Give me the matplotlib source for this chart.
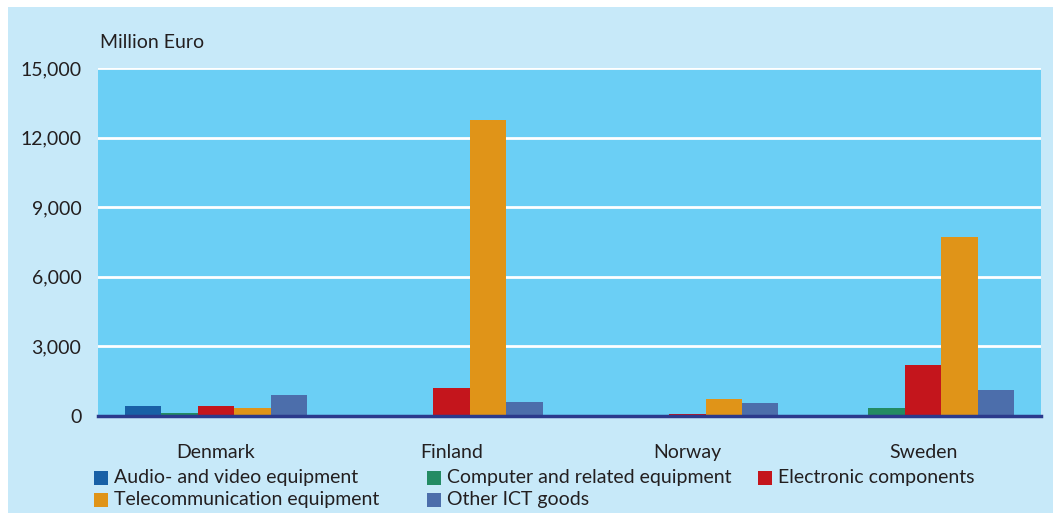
import matplotlib
matplotlib.use("Agg")
import matplotlib.pyplot as plt
from matplotlib.patches import Rectangle
import numpy as np

countries = ["Denmark", "Finland", "Norway", "Sweden"]
series_names = ["Audio- and video equipment", "Computer and related equipment",
                "Electronic components", "Telecommunication equipment", "Other ICT goods"]
audio_video = [430, 30, 10, 20]
computer = [130, 30, 20, 350]
electronic = [430, 1200, 90, 2200]
telecom = [350, 12760, 730, 7720]
other_ict = [900, 600, 560, 1120]
yticks = [0, 3000, 6000, 9000, 12000, 15000]
ytick_labels = ["0", "3,000", "6,000", "9,000", "12,000", "15,000"]

colors = ["#1860A6", "#238B63", "#C4151C", "#E09418", "#4C6EAB"]
values = [audio_video, computer, electronic, telecom, other_ict]

plt.rcParams['font.family'] = ['Lato', 'DejaVu Sans']
txt = "#231F20"
fs = 14

fig = plt.figure(figsize=(10.53, 5.13), dpi=100, facecolor="white")
fig.patches.append(Rectangle((8/1053, 0), 1 - 8/1053, 1 - 7/513, transform=fig.transFigure,
                             facecolor="#C7E9F9", edgecolor="none", zorder=-10))
ax = fig.add_axes([98/1053, 97/513, 943/1053, 348/513])
ax.set_facecolor("#6BCFF5")

x = np.arange(len(countries))
w = 0.1545
for i, (vals, c) in enumerate(zip(values, colors)):
    ax.bar(x + (i - 2) * w, vals, width=w, color=c, zorder=3, linewidth=0)

ax.set_xlim(-0.5, 3.5)
ax.set_ylim(0, 15000)
ax.set_yticks(yticks)
ax.set_yticklabels(ytick_labels)
for yv in yticks[1:]:
    ax.axhline(yv, color="white", linewidth=2, zorder=1)
ax.axhline(0, color="#2B3A8C", linewidth=2.5, zorder=4, clip_on=False)
ax.set_xticks(x)
ax.set_xticklabels(countries)
ax.tick_params(axis="both", length=0, labelsize=fs, colors=txt)
ax.tick_params(axis="y", pad=12)
ax.tick_params(axis="x", pad=20)
for s in ax.spines.values():
    s.set_visible(False)

fig.text(100/1053, 1 - 43/513, "Million Euro", fontsize=fs, color=txt, va="center", ha="left")

# legend
leg_pos = [(94, 478), (427, 478), (758, 478), (94, 500), (427, 500)]
for (px, py), name, c in zip(leg_pos, series_names, colors):
    fig.patches.append(Rectangle((px/1053, 1 - (py + 7)/513), 14/1053, 14/513,
                                 transform=fig.transFigure, facecolor=c, edgecolor="none"))
    fig.text((px + 20)/1053, 1 - py/513, name, fontsize=fs, color=txt, va="center", ha="left")

fig.savefig("out.png", dpi=100, facecolor="white")
